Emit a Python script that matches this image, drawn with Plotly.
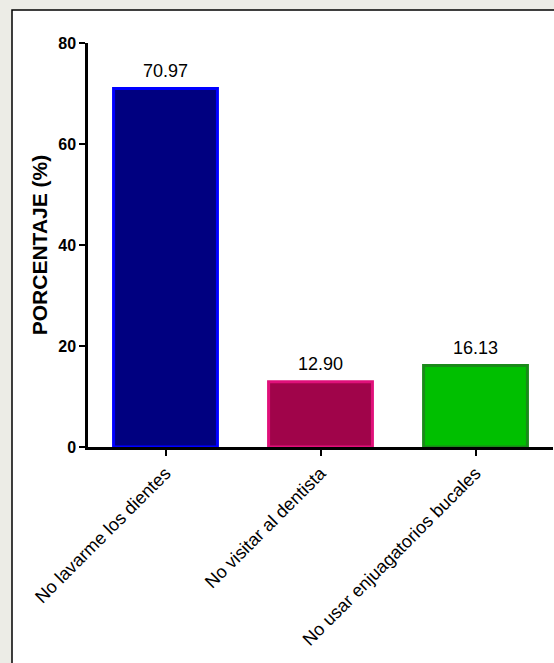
import plotly.graph_objects as go

categories = ["No lavarme los dientes", "No visitar al dentista", "No usar enjuagatorios bucales"]
values = [70.97, 12.90, 16.13]
fill_colors = ["#000080", "#A0044A", "#00BF00"]
line_colors = ["#0000FF", "#E0107A", "#1A8A1A"]
y_ticks = [0, 20, 40, 60, 80]

W, H = 554, 663
left, right, top, bottom = 88, 1, 43, 216
pw = W - left - right
ph = H - top - bottom

def px_x(p):
    return (p - left) / pw

def px_y(p):
    return (H - bottom - p) / ph

fig = go.Figure()
fig.add_trace(go.Bar(
    x=categories, y=values, width=0.67,
    marker=dict(color=fill_colors, line=dict(color=line_colors, width=3)),
    hoverinfo="skip",
))

for c, v in zip(categories, values):
    fig.add_annotation(x=c, y=v, text=f"{v:.2f}", showarrow=False,
                       yanchor="bottom", yshift=6,
                       font=dict(family="Liberation Sans, Arial", size=18, color="black"))

# white panel with black left/top border
fig.add_shape(type="rect", xref="paper", yref="paper",
              x0=px_x(12), x1=px_x(W + 20), y0=px_y(H + 20), y1=px_y(10),
              fillcolor="white", line=dict(color="black", width=1.5), layer="below")

fig.update_layout(
    width=W, height=H,
    margin=dict(l=left, r=right, t=top, b=bottom, pad=0),
    paper_bgcolor="#ECECE6", plot_bgcolor="rgba(0,0,0,0)",
    showlegend=False,
    font=dict(family="Liberation Sans, Arial", color="black"),
)
fig.update_yaxes(range=[0, 80], tickvals=y_ticks, ticktext=[str(t) for t in y_ticks],
                 showgrid=False, zeroline=False, showline=True, linecolor="black", linewidth=2.5,
                 ticks="outside", ticklen=6, tickwidth=2, tickcolor="black",
                 tickfont=dict(size=16, family="Liberation Sans, Arial", weight="bold"),
                 title=dict(text="<b>PORCENTAJE (%)</b>", font=dict(size=21), standoff=5))
fig.update_xaxes(range=[-0.5, 2.5], showgrid=False, showline=True, linecolor="black", linewidth=2.5,
                 ticks="outside", ticklen=6, tickwidth=2, tickcolor="black",
                 tickangle=-45, tickfont=dict(size=18, family="Liberation Sans, Arial"))

fig.write_html("out.html")
